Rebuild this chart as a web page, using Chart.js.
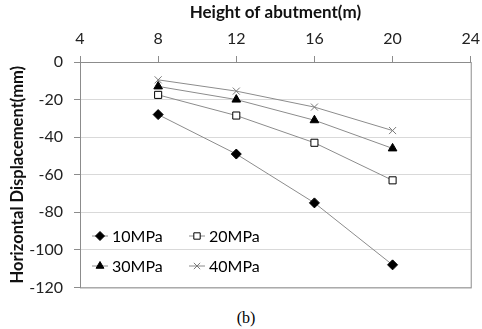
<!DOCTYPE html>
<html>
<head>
<meta charset="utf-8">
<script src="https://cdn.jsdelivr.net/npm/chart.js@4"></script>
<style>
  html, body { margin: 0; background: #fff; overflow: hidden; width: 482px; height: 329px; }
  #wrap { position: absolute; top: 0; left: 0; width: 488px; height: 308px; }
  #caption { position: absolute; top: 309px; left: 226px; width: 40px; text-align: center; font-family: "Liberation Serif", serif; font-size: 16px; }
</style>
</head>
<body>
<div id="wrap"><canvas id="chart"></canvas></div>
<div id="caption">(b)</div>
<script>
// abutment heights (m)
const heights = [8, 12, 16, 20];

// horizontal displacement (mm) per modulus
const disp10 = [-28, -49, -75, -108];
const disp20 = [-17.5, -28.5, -43, -63];
const disp30 = [-13, -20, -31, -46];
const disp40 = [-9.5, -15.5, -24, -36.5];

const seriesNames = ['10MPa', '20MPa', '30MPa', '40MPa'];

const xTicks = [4, 8, 12, 16, 20, 24];
const yTicks = [0, -20, -40, -60, -80, -100, -120];

const font = 'Lato';

function pts(vals) {
  return vals.map((v, i) => ({ x: heights[i], y: v }));
}

function series(label, vals, style, fill, radius) {
  return {
    label: label,
    data: pts(vals),
    borderColor: '#8c8c8c',
    borderWidth: 1,
    pointStyle: style,
    pointRadius: radius,
    pointBackgroundColor: fill,
    pointBorderColor: style === 'crossRot' ? '#7a7a7a' : '#000',
    pointBorderWidth: 1,
    tension: 0
  };
}

// legend drawn inside the plot, two per row
const innerLegend = {
  id: 'innerLegend',
  afterDraw(chart) {
    const ctx = chart.ctx;
    const slots = [[92, 236], [189, 236], [92, 266], [189, 266]];
    chart.data.datasets.forEach((ds, i) => {
      const [x, y] = slots[i];
      ctx.save();
      ctx.strokeStyle = ds.borderColor;
      ctx.lineWidth = 1;
      ctx.beginPath();
      ctx.moveTo(x, y);
      ctx.lineTo(x + 16, y);
      ctx.stroke();
      ctx.fillStyle = ds.pointBackgroundColor;
      ctx.strokeStyle = ds.pointBorderColor;
      Chart.helpers.drawPoint(ctx, { pointStyle: ds.pointStyle, radius: 4.5, borderWidth: 1 }, x + 8, y);
      ctx.fillStyle = '#000';
      ctx.font = '16px ' + font;
      ctx.textBaseline = 'middle';
      ctx.fillText(ds.label, x + 20, y + 1);
      ctx.restore();
    });
  }
};

// frame round the plot area
const frame = {
  id: 'frame',
  beforeDatasetsDraw(chart) {
    const a = chart.chartArea;
    const ctx = chart.ctx;
    ctx.save();
    ctx.strokeStyle = '#8c8c8c';
    ctx.lineWidth = 1;
    ctx.strokeRect(a.left + 0.5, a.top + 0.5, a.right - a.left, a.bottom - a.top);
    ctx.restore();
  }
};

new Chart(document.getElementById('chart'), {
  type: 'line',
  data: {
    datasets: [
      series(seriesNames[0], disp10, 'rectRot', '#000', 5),
      series(seriesNames[1], disp20, 'rect', '#fff', 5),
      series(seriesNames[2], disp30, 'triangle', '#000', 5),
      series(seriesNames[3], disp40, 'crossRot', '#fff', 5)
    ]
  },
  options: {
    responsive: true,
    maintainAspectRatio: false,
    animation: false,
    layout: { padding: 0 },
    plugins: {
      legend: { display: false },
      tooltip: { enabled: false }
    },
    scales: {
      x: {
        type: 'linear',
        position: 'top',
        min: 4,
        max: 24,
        afterBuildTicks: s => { s.ticks = xTicks.map(v => ({ value: v })); },
        afterFit: s => { s.height = 62; },
        ticks: { color: '#222', font: { family: font, size: 16 }, padding: 8 },
        grid: { drawOnChartArea: false, drawTicks: true, tickLength: 6, color: '#8c8c8c' },
        border: { color: '#8c8c8c' },
        title: {
          display: true,
          text: 'Height of abutment(m)',
          color: '#111',
          font: { family: font, size: 17, weight: 'bold' },
          padding: { top: 2, bottom: 0 }
        }
      },
      y: {
        type: 'linear',
        min: -120,
        max: 0,
        afterBuildTicks: s => { s.ticks = yTicks.map(v => ({ value: v })); },
        afterFit: s => { s.width = 80; },
        ticks: { color: '#222', font: { family: font, size: 16 }, padding: 11 },
        grid: { color: '#d9d9d9', tickLength: 6, tickColor: '#8c8c8c' },
        border: { color: '#8c8c8c' },
        title: {
          display: true,
          text: 'Horizontal Displacement(mm)',
          color: '#111',
          font: { family: font, size: 16.5, weight: 'bold' },
          padding: { top: 8, bottom: 0 }
        }
      }
    }
  },
  plugins: [frame, innerLegend]
});
</script>
</body>
</html>
